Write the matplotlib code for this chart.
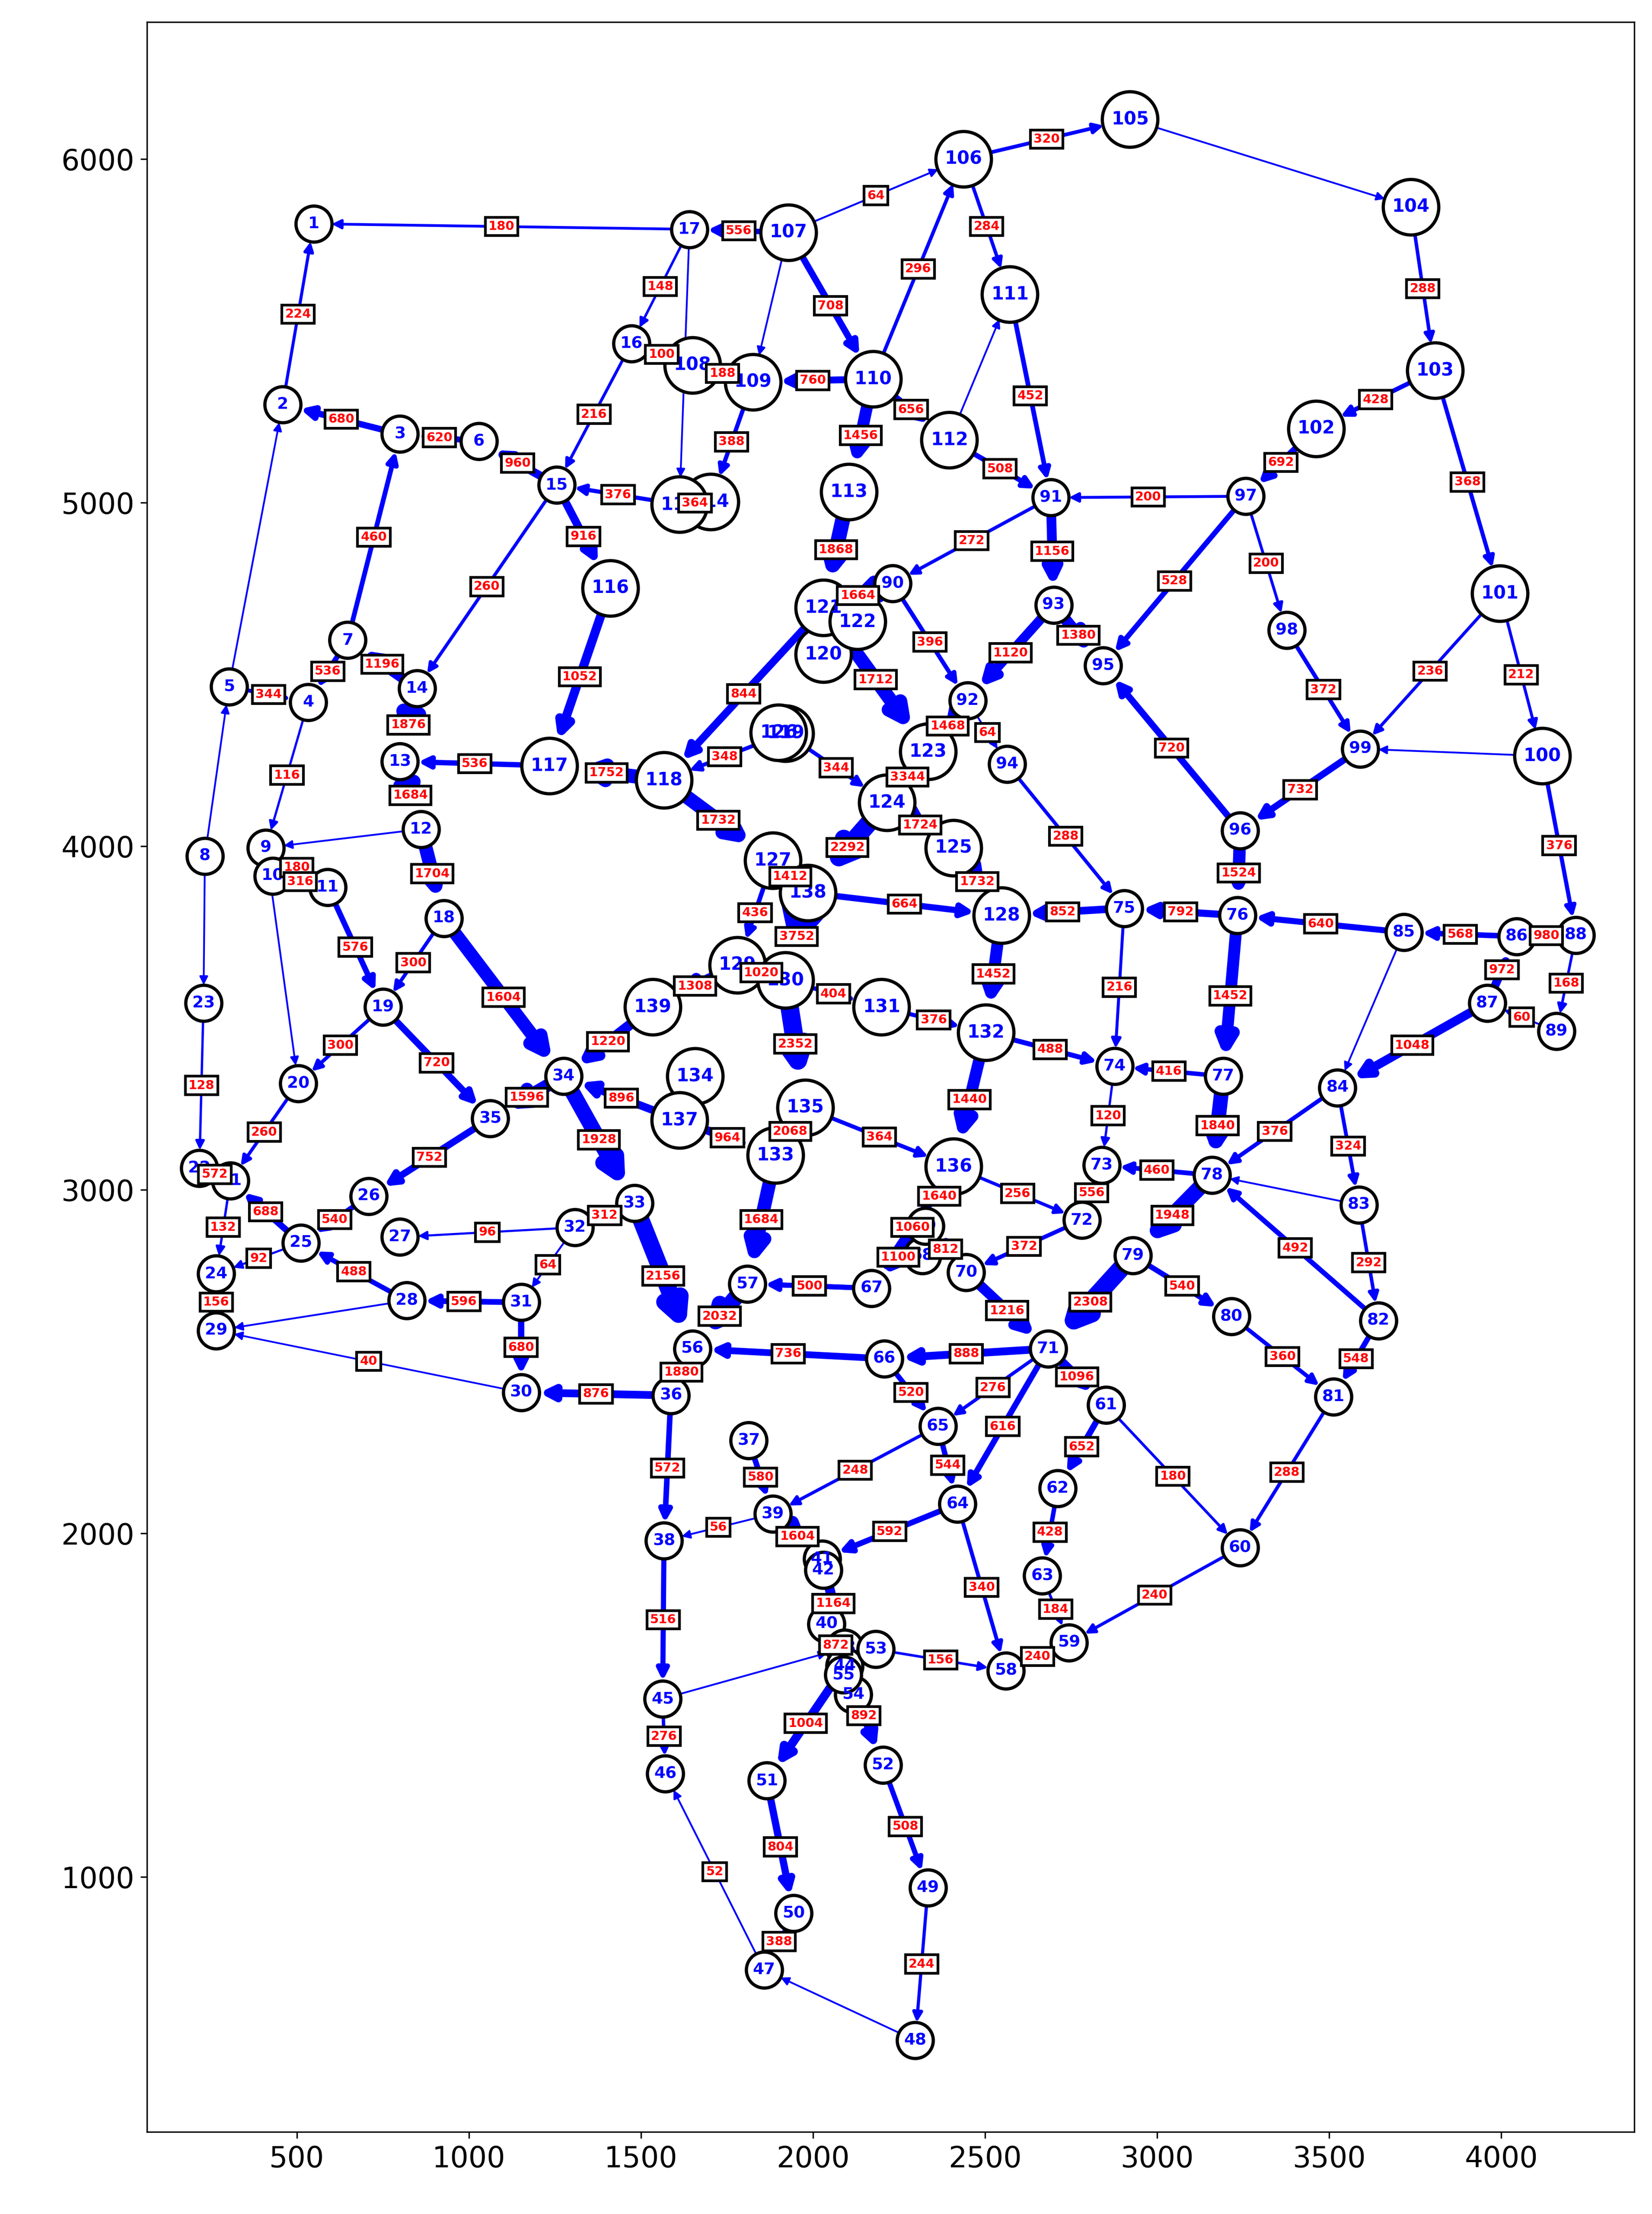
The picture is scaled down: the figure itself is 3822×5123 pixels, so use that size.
import matplotlib
matplotlib.use("Agg")
import matplotlib.pyplot as plt

node_ids = list(range(1, 140))
node_x = [549,459,800,533,303,1029,648,233,410,430,590,861,800,849,1255,1472,1641,927,750,504,
          307,217,229,266,512,709,800,820,266,1152,1152,1308,1481,1275,1062,1587,1813,1567,1883,2039,
          2026,2030,2092,2092,1563,1571,1858,2297,2334,1944,1866,2203,2182,2117,2088,1649,1809,2560,2744,3241,
          2851,2711,2666,2420,2363,2207,2170,2318,2326,2445,2683,2781,2839,2876,2904,3233,3192,3159,2929,3216,
          3512,3643,3586,3524,3717,4045,3959,4217,4160,2231,2691,2449,2699,2564,2843,3241,3257,3376,3590,4119,
          3996,3462,3807,3737,2921,2437,1928,1649,1825,2174,2572,2396,2104,1702,1612,1411,1234,1567,1920,2030,
          2030,2129,2334,2215,2408,1900,1883,2547,1780,1920,2199,2502,1891,1657,1977,2408,1612,1985,1534]
node_y = [5811,5285,5199,4418,4464,5178,4599,3971,3995,3913,3880,4049,4246,4459,5051,5462,5795,3790,3531,3309,
          3026,3063,3543,2755,2845,2981,2862,2677,2590,2410,2672,2890,2960,3330,3207,2401,2270,1978,2056,1736,
          1925,1893,1666,1613,1518,1300,729,524,968,894,1280,1325,1662,1531,1588,2537,2726,1600,1682,1958,
          2373,2130,1876,2085,2311,2508,2713,2808,2894,2759,2537,2911,3071,3359,3819,3798,3330,3042,2808,2631,
          2397,2619,2956,3297,3749,3737,3543,3741,3461,4764,5014,4423,4702,4238,4525,4045,5018,4628,4283,4262,
          4735,5215,5384,5860,6115,6000,5786,5400,5351,5359,5606,5182,5031,5002,4994,4751,4234,4192,4328,4558,
          4694,4653,4275,4127,3995,4330,3958,3798,3654,3609,3531,3457,3100,3330,3239,3067,3202,3864,3531]

edge_src = [17,2,3,6,15,16,17,107,107,106,104,103,103,102,97,97,98,101,101,100,99,96,97,91,93,93,91,111,112,106,
            110,110,107,110,110,109,16,108,115,115,15,116,15,7,14,7,5,14,117,118,13,4,9,10,12,11,18,18,19,19,
            139,34,137,34,35,33,32,32,33,31,31,36,30,28,26,25,25,21,22,24,20,23,129,129,127,138,127,118,119,121,
            124,138,124,123,92,119,121,90,90,113,92,94,125,75,76,96,85,86,88,87,88,89,87,76,75,77,132,128,131,130,
            130,132,74,78,77,84,84,83,82,82,80,81,79,78,73,136,79,71,61,61,60,62,63,59,64,53,65,71,71,71,
            70,72,69,136,69,136,67,66,66,65,64,39,37,57,67,133,135,135,137,56,36,39,38,45,47,50,51,44,44,52,
            49,41,40,
            105,100,107,17,8,5,8,9,12,28,48,85,83,45,112]
edge_dst = [1,1,2,3,6,15,16,17,106,105,103,101,102,97,91,98,99,99,100,88,96,95,95,93,95,92,90,91,91,111,
            106,112,110,109,113,114,108,109,114,15,116,117,14,3,7,4,4,13,13,117,12,9,11,11,18,19,19,34,35,20,
            34,35,34,33,26,32,27,31,56,28,30,30,29,25,25,21,24,24,21,29,21,22,139,130,129,130,138,127,118,118,
            138,128,125,124,123,124,123,92,121,121,94,75,128,128,75,76,76,85,86,86,89,87,84,77,74,74,74,132,132,131,
            135,136,73,73,78,78,83,82,78,81,81,60,80,79,72,72,71,61,62,60,59,63,59,58,58,58,64,64,65,66,
            71,70,70,69,67,67,57,65,56,39,41,41,39,56,57,57,133,136,133,36,38,38,45,46,46,47,50,51,52,49,
            48,43,44,
            104,99,109,115,5,2,23,20,9,29,47,84,78,43,111]
edge_flow = [180,224,680,620,960,216,148,556,64,320,288,368,428,692,200,200,372,236,212,376,732,720,528,1156,1380,1120,272,452,508,284,
             296,656,708,760,1456,388,100,188,364,376,916,1052,260,460,1196,536,344,1876,536,1752,1684,116,180,316,1704,576,300,1604,720,300,
             1220,1596,896,1928,752,312,96,64,2156,596,680,876,40,488,540,688,92,132,572,156,260,128,1308,1020,436,3752,1412,1732,348,844,
             2292,664,1724,3344,1468,344,1712,396,1664,1868,64,288,1732,852,792,1524,640,568,980,972,168,60,1048,1452,216,416,488,1452,376,404,
             2352,1440,120,460,1840,376,324,292,492,548,360,288,540,1948,556,256,2308,1096,652,180,240,428,184,240,340,156,544,616,276,888,
             1216,372,812,1640,1100,1060,500,520,736,248,592,1604,580,2032,500,1684,2068,364,964,1880,572,56,516,276,52,388,804,1004,892,508,
             244,1164,872,
             None,None,None,None,None,None,None,None,None,None,None,None,None,None,None]

large_nodes = set(range(100, 140))

fig = plt.figure(figsize=(12.743, 17.077), dpi=300)
ax = fig.add_axes([0.089, 0.037, 0.900, 0.953])
pos = {n: (x, y) for n, x, y in zip(node_ids, node_x, node_y)}

for s, d, f in zip(edge_src, edge_dst, edge_flow):
    lw = 1.0 if f is None else 0.8 + f / 250.0
    rB = 15 if d in large_nodes else 10
    ax.annotate('', xy=pos[d], xytext=pos[s],
                arrowprops=dict(arrowstyle='-|>', color='blue', lw=lw,
                                mutation_scale=8 + lw * 1.6, shrinkA=0, shrinkB=rB),
                zorder=1)

for n in node_ids:
    big = n in large_nodes
    ax.scatter(pos[n][0], pos[n][1], s=950 if big else 400, facecolor='white',
               edgecolor='black', linewidth=1.8, zorder=3)
    ax.text(pos[n][0], pos[n][1], str(n), color='blue', fontsize=10 if big else 9,
            fontweight='bold', ha='center', va='center', zorder=4)

for s, d, f in zip(edge_src, edge_dst, edge_flow):
    if f is None:
        continue
    mx = (pos[s][0] + pos[d][0]) / 2
    my = (pos[s][1] + pos[d][1]) / 2
    ax.text(mx, my, str(f), color='red', fontsize=7, fontweight='bold', ha='center', va='center',
            bbox=dict(boxstyle='square,pad=0.25', facecolor='white', edgecolor='black', linewidth=1.5),
            zorder=5)

ax.set_xlim(65, 4386)
ax.set_ylim(257, 6398)
ax.set_xticks([500, 1000, 1500, 2000, 2500, 3000, 3500, 4000])
ax.set_yticks([1000, 2000, 3000, 4000, 5000, 6000])
ax.tick_params(labelsize=16)
fig.savefig('out.png', dpi=300)
